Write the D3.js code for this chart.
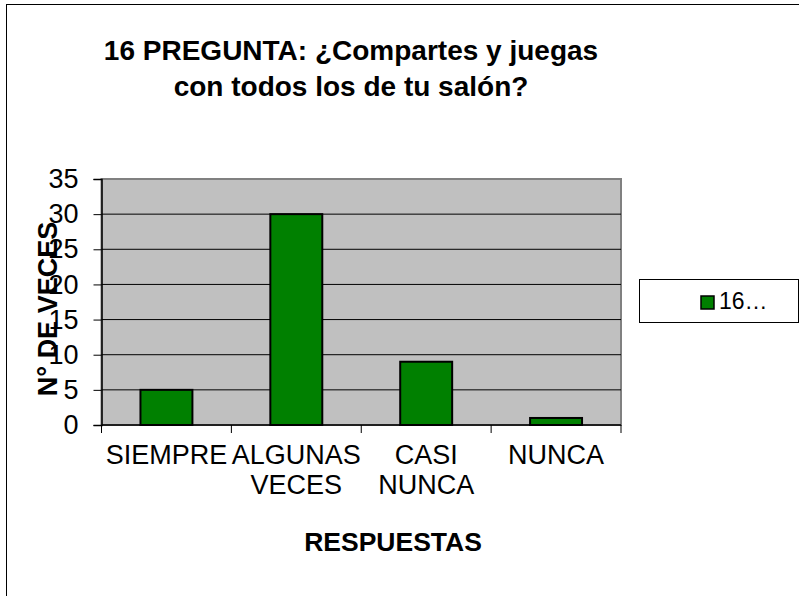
<!DOCTYPE html>
<html>
<head>
<meta charset="utf-8">
<script src="https://cdn.jsdelivr.net/npm/d3@7"></script>
<style>
  body { margin: 0; background: #fff; }
  text { font-family: "Liberation Sans", Arial, sans-serif; fill: #000; }
</style>
</head>
<body>
<svg id="chart"></svg>
<script>
// Data
const categories = [["SIEMPRE"], ["ALGUNAS", "VECES"], ["CASI", "NUNCA"], ["NUNCA"]];
const values = [5, 30, 9, 1];
const yTicks = [0, 5, 10, 15, 20, 25, 30, 35];
const titleLines = ["16 PREGUNTA: ¿Compartes y juegas", "con todos los de tu salón?"];
const legendLabel = "16…";

const width = 799;
const height = 596;
const plot = { left: 101.5, right: 621, top: 179, bottom: 425 };

const svg = d3.select("#chart").attr("width", width).attr("height", height);

// outer chart frame
svg.append("rect")
    .attr("x", 6.5).attr("y", 4.5)
    .attr("width", 800).attr("height", 600)
    .attr("fill", "#fff").attr("stroke", "#000");

// title
svg.append("g").selectAll("text")
    .data(titleLines)
    .join("text")
    .attr("x", 351)
    .attr("y", (d, i) => 60 + i * 36)
    .attr("text-anchor", "middle")
    .style("font-size", "28px")
    .style("font-weight", "bold")
    .text(d => d);

const keys = categories.map(c => c.join(" "));

const x = d3.scaleBand()
    .domain(keys)
    .range([plot.left, plot.right]);

const y = d3.scaleLinear()
    .domain([0, 35])
    .range([plot.bottom, plot.top]);

// plot area
svg.append("rect")
    .attr("x", plot.left).attr("y", plot.top)
    .attr("width", plot.right - plot.left)
    .attr("height", plot.bottom - plot.top)
    .attr("fill", "#c0c0c0")
    .attr("stroke", "#808080")
    .attr("stroke-width", 2);

// gridlines
svg.append("g").selectAll("line")
    .data(yTicks.filter(t => t > 0 && t < 35))
    .join("line")
    .attr("x1", plot.left).attr("x2", plot.right)
    .attr("y1", d => y(d)).attr("y2", d => y(d))
    .attr("stroke", "#000");

// bars
const bw = x.bandwidth();
svg.append("g").selectAll("rect")
    .data(values)
    .join("rect")
    .attr("x", (d, i) => x(keys[i]) + bw * 0.3)
    .attr("y", d => y(d))
    .attr("width", bw * 0.4)
    .attr("height", d => y(0) - y(d))
    .attr("fill", "#008000")
    .attr("stroke", "#000")
    .attr("stroke-width", 2);

// y axis
const yAxis = svg.append("g")
    .attr("transform", `translate(${plot.left},0)`)
    .attr("font-family", null)
    .call(d3.axisLeft(y).tickValues(yTicks).tickSize(8).tickPadding(15));
yAxis.select(".domain").attr("stroke", "#000").attr("stroke-width", 1.5);
yAxis.selectAll("text").style("font-size", "27px");

// x axis: ticks at category boundaries
const bounds = keys.map(k => x(k)).concat([plot.right]);
svg.append("line")
    .attr("x1", plot.left).attr("x2", plot.right)
    .attr("y1", plot.bottom).attr("y2", plot.bottom)
    .attr("stroke", "#000").attr("stroke-width", 1.5);
svg.append("g").selectAll("line")
    .data(bounds)
    .join("line")
    .attr("x1", d => d).attr("x2", d => d)
    .attr("y1", plot.bottom).attr("y2", plot.bottom + 8)
    .attr("stroke", "#000");

const xl = svg.append("g").selectAll("text")
    .data(categories)
    .join("text")
    .attr("x", (d, i) => x(keys[i]) + bw / 2)
    .attr("y", 464)
    .attr("text-anchor", "middle")
    .style("font-size", "27px");
xl.selectAll("tspan")
    .data(d => d)
    .join("tspan")
    .attr("x", function () { return this.parentNode.getAttribute("x"); })
    .attr("dy", (d, i) => i === 0 ? 0 : 30)
    .text(d => d);

// axis titles
svg.append("text")
    .attr("x", 393).attr("y", 551)
    .attr("text-anchor", "middle")
    .style("font-size", "26.5px")
    .style("font-weight", "bold")
    .text("RESPUESTAS");

svg.append("text")
    .attr("transform", "translate(48,309) rotate(-90)")
    .attr("text-anchor", "middle")
    .attr("dy", "0.35em")
    .style("font-size", "27px")
    .style("font-weight", "bold")
    .text("N° DE VECES");

// legend
const lg = svg.append("g");
lg.append("rect")
    .attr("x", 639.5).attr("y", 279.5)
    .attr("width", 159).attr("height", 43)
    .attr("fill", "#fff").attr("stroke", "#000");
lg.append("rect")
    .attr("x", 701).attr("y", 296)
    .attr("width", 13).attr("height", 13)
    .attr("fill", "#008000").attr("stroke", "#000").attr("stroke-width", 1.5);
lg.append("text")
    .attr("x", 719).attr("y", 309)
    .style("font-size", "23px")
    .text(legendLabel);
</script>
</body>
</html>
